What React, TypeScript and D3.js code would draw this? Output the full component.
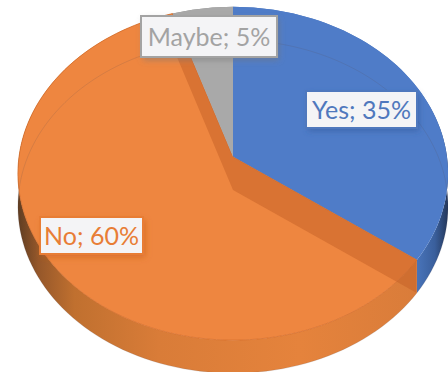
import React from "react";
import * as d3 from "d3";

const categories = ["Yes", "No", "Maybe"];
const shares = [35, 60, 5];
const faceColors = ["#4f7cc8", "#ee8640", "#a9a9a9"];
const labelColors = ["#4f78bd", "#e87d35", "#a3a3a3"];
const labelBoxes = [
  { x: 306, y: 91, w: 111, h: 37 },
  { x: 40, y: 217, w: 103, h: 37 },
  { x: 141, y: 16, w: 136, h: 41 },
];

const WIDTH = 448;
const HEIGHT = 372;
const CX = 233;
const CY = 157;
const RX = 214;
const RY = 165;
const TILT = 0.099;
const DEPTH = 33;
const STEP = Math.PI / 90;

// Perspective projection of a point on the unit disc, angle clockwise from 12 o'clock.
function project(angle: number, r = 1, depth = 0): [number, number] {
  const u = r * Math.sin(angle);
  const v = -r * Math.cos(angle);
  const w = 1 - TILT * v;
  return [CX + (RX * u) / w, CY + (RY * v) / w + depth];
}

function rim(a0: number, a1: number, depth = 0): [number, number][] {
  const n = Math.max(2, Math.ceil(Math.abs(a1 - a0) / STEP));
  return d3.range(n + 1).map((i) => project(a0 + ((a1 - a0) * i) / n, 1, depth));
}

const line = d3.line<[number, number]>().curve(d3.curveLinear);
const closed = (pts: [number, number][]) => line(pts) + "Z";

const arcs = d3.pie<number>().sort(null)(shares);

export default function App() {
  const apex = project(0, 0);
  const apexLow = project(0, 0, DEPTH);
  const noArc = arcs[1];

  return (
    <svg
      width={WIDTH}
      height={HEIGHT}
      viewBox={`0 0 ${WIDTH} ${HEIGHT}`}
      style={{ position: "absolute", left: 0, top: 0, background: "#fff" }}
    >
      <defs>
        <linearGradient id="wallNo" gradientUnits="userSpaceOnUse" x1="18" x2="420" y1="0" y2="0">
          <stop offset="0" stopColor="#5f3d22" />
          <stop offset="0.05" stopColor="#95572a" />
          <stop offset="0.14" stopColor="#c0702f" />
          <stop offset="0.35" stopColor="#d97c38" />
          <stop offset="0.7" stopColor="#e5833c" />
          <stop offset="1" stopColor="#d97c3a" />
        </linearGradient>
        <linearGradient id="wallYes" gradientUnits="userSpaceOnUse" x1="415" x2="448" y1="0" y2="0">
          <stop offset="0" stopColor="#4a76bd" />
          <stop offset="0.6" stopColor="#3a5f9c" />
          <stop offset="1" stopColor="#24375a" />
        </linearGradient>
        <filter id="labelShadow" x="-20%" y="-30%" width="140%" height="160%">
          <feGaussianBlur stdDeviation="3" />
        </filter>
      </defs>

      {/* Side wall of the disc, one band per slice */}
      {arcs.map((a, i) => {
        const top = rim(a.startAngle, a.endAngle);
        const low = rim(a.endAngle, a.startAngle, DEPTH);
        const fill = i === 0 ? "url(#wallYes)" : i === 1 ? "url(#wallNo)" : "#8d8d8d";
        return <path key={categories[i]} d={closed([...top, ...low])} fill={fill} />;
      })}

      {/* Top faces */}
      {arcs.map((a, i) => (
        <path
          key={categories[i]}
          d={closed([apex, ...rim(a.startAngle, a.endAngle)])}
          fill={faceColors[i]}
          stroke={i === 1 ? "#d66f2c" : "none"}
          strokeWidth={0.8}
        />
      ))}

      {/* Inner walls of the No slice, seen through its translucent top */}
      <path
        d={closed([
          apex,
          project(noArc.endAngle),
          project(noArc.endAngle, 1, DEPTH),
          apexLow,
          project(noArc.startAngle, 1, DEPTH),
          project(noArc.startAngle),
        ])}
        fill="#c45f26"
        fillOpacity={0.5}
      />

      {/* Lower rim showing faintly through the disc */}
      <path
        d={closed(rim(0, Math.PI * 2, DEPTH))}
        fill="none"
        stroke="#5a4a50"
        strokeOpacity={0.16}
        strokeWidth={1}
      />

      {/* Data labels */}
      {arcs.map((a, i) => {
        const b = labelBoxes[i];
        return (
          <g key={categories[i]}>
            <rect
              x={b.x + 2}
              y={b.y + 3}
              width={b.w}
              height={b.h}
              fill={i === 2 ? "#777" : i === 0 ? "#2f5597" : "#c55a11"}
              fillOpacity={0.55}
              filter="url(#labelShadow)"
            />
            <rect
              x={b.x}
              y={b.y}
              width={b.w}
              height={b.h}
              fill="#f4f4f6"
              stroke={labelColors[i]}
              strokeWidth={2}
            />
            <text
              x={b.x + b.w / 2}
              y={b.y + b.h / 2 + 9}
              textAnchor="middle"
              fontFamily="Lato, 'Open Sans', sans-serif"
              fontSize={25}
              fill={labelColors[i]}
            >
              {`${categories[i]}; ${a.data}%`}
            </text>
          </g>
        );
      })}
    </svg>
  );
}
